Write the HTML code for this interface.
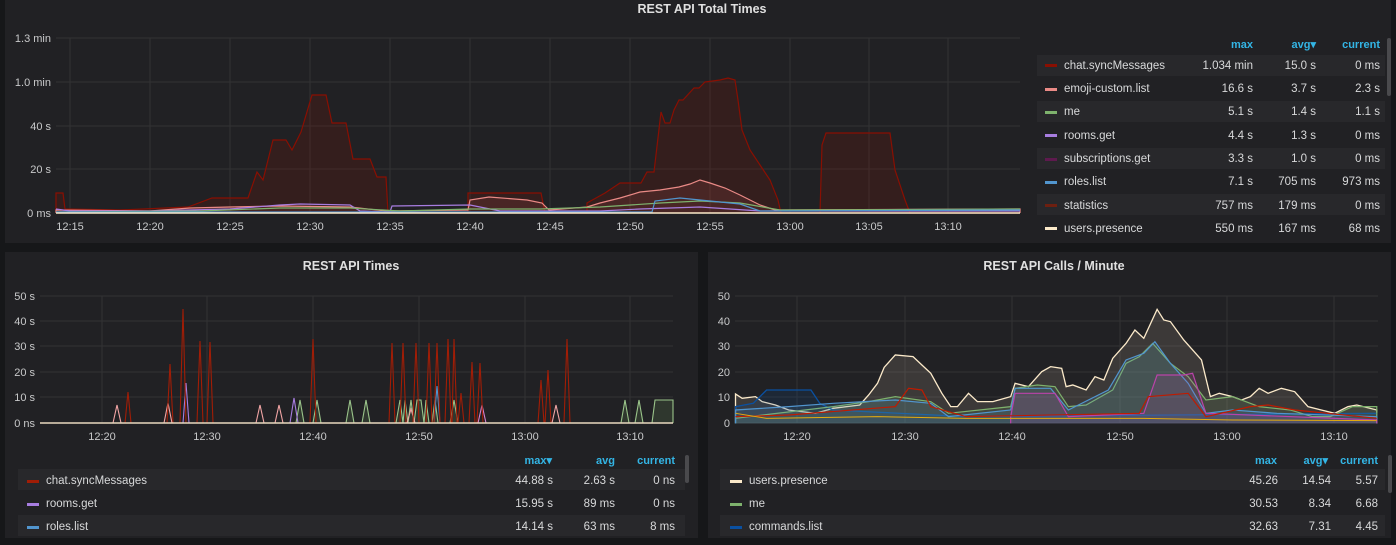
<!DOCTYPE html>
<html><head><meta charset="utf-8"><style>
body{margin:0;background:#161719;width:1396px;height:540px;overflow:hidden}
text{font-family:"Liberation Sans",sans-serif;fill:#d8d9da}
.ax text{font-size:11px;fill:#c8c9ca}
.t{font-size:12.5px;font-weight:bold;fill:#e0e0e0}
.lg text{font-size:11.5px;fill:#d8d9da}
.h text{font-size:11px;fill:#33b5e5;font-weight:bold}
.g{stroke:#323234;stroke-width:1}
</style></head><body>
<svg width="1396" height="540" xmlns="http://www.w3.org/2000/svg">
<rect x="0" y="0" width="1396" height="540" fill="#161719"/>
<rect x="5" y="0" width="1386" height="243" fill="#212124"/>
<rect x="5" y="252" width="693" height="286" fill="#212124"/>
<rect x="708" y="252" width="683" height="286" fill="#212124"/>

<!-- TOP -->
<text x="702" y="13" class="t" text-anchor="middle">REST API Total Times</text>
<g class="g">
<line x1="56" x2="1020" y1="38" y2="38"/><line x1="56" x2="1020" y1="82" y2="82"/><line x1="56" x2="1020" y1="126" y2="126"/><line x1="56" x2="1020" y1="169" y2="169"/><line x1="56" x2="1020" y1="213" y2="213"/>
<line x1="70" x2="70" y1="38" y2="213"/><line x1="150" x2="150" y1="38" y2="213"/><line x1="230" x2="230" y1="38" y2="213"/><line x1="310" x2="310" y1="38" y2="213"/><line x1="390" x2="390" y1="38" y2="213"/><line x1="470" x2="470" y1="38" y2="213"/><line x1="550" x2="550" y1="38" y2="213"/><line x1="630" x2="630" y1="38" y2="213"/><line x1="710" x2="710" y1="38" y2="213"/><line x1="790" x2="790" y1="38" y2="213"/><line x1="869" x2="869" y1="38" y2="213"/><line x1="948" x2="948" y1="38" y2="213"/>
</g>
<g class="ax" text-anchor="end">
<text x="51" y="42">1.3 min</text><text x="51" y="86">1.0 min</text><text x="51" y="130">40 s</text><text x="51" y="173">20 s</text><text x="51" y="217">0 ms</text>
</g>
<g class="ax" text-anchor="middle">
<text x="70" y="230">12:15</text><text x="150" y="230">12:20</text><text x="230" y="230">12:25</text><text x="310" y="230">12:30</text><text x="390" y="230">12:35</text><text x="470" y="230">12:40</text><text x="550" y="230">12:45</text><text x="630" y="230">12:50</text><text x="710" y="230">12:55</text><text x="790" y="230">13:00</text><text x="869" y="230">13:05</text><text x="948" y="230">13:10</text>
</g>
<polyline fill="rgba(137,15,2,0.18)" stroke="#890f02" stroke-width="1.2" points="56,213 56,193 63,193 65,209 120,210 188,207 212,198 248,198 257,172 263,180 273,140 286,140 292,150 301,132 312,95 326,95 332,123 346,123 353,159 370,159 377,177 386,177 388,213 468,213 468,193 541,193 545,213 587,213 587,203 605,193 620,183 641,183 647,172 654,172 661,112 665,123 670,123 674,110 679,100 683,100 694,88 699,88 705,82 720,80 728,78 735,80 738,100 742,130 750,150 760,165 770,180 778,200 781,213 820,213 822,145 826,133 890,133 895,170 905,200 910,213 1020,213"/>
<polyline fill="rgba(234,100,96,0.12)" stroke="#ea8a86" stroke-width="1.2" points="56,213 56,210 150,211 190,208 230,207 280,206 350,207 386,211 468,210 470,200 489,197 527,200 542,203 549,210 587,207 600,203 620,198 640,192 660,190 679,187 690,184 700,180 710,183 725,188 740,195 760,205 775,210 1020,209 1020,213"/>
<polyline fill="none" stroke="#a77de0" stroke-width="1.2" points="56,209 70,211 150,211 230,209 280,205 300,204 350,205 360,211 390,212 392,206 470,205 500,211 600,211 640,209 700,207 760,211 1020,211"/>
<polyline fill="none" stroke="#7eb26d" stroke-width="1.2" points="56,212 200,211 280,208 350,208 400,211 470,209 540,209 600,207 660,203 700,201 740,203 780,210 1020,209"/>
<polyline fill="none" stroke="#5195ce" stroke-width="1.2" points="56,212 600,212 652,212 655,201 680,198 700,200 740,204 760,211 1020,210"/>
<polyline fill="none" stroke="#fceaca" stroke-width="1.5" points="56,213 1020,213"/>
<!-- legend top -->
<g class="h" text-anchor="end"><text x="1253" y="48">max</text><text x="1316" y="48">avg▾</text><text x="1380" y="48">current</text></g>
<g fill="#28282b">
<rect x="1037" y="55" width="348" height="21"/><rect x="1037" y="101" width="348" height="21"/><rect x="1037" y="148" width="348" height="21"/><rect x="1037" y="194" width="348" height="21"/>
</g>
<rect x="1387" y="38" width="4" height="58" rx="2" fill="#4a4a4d"/>
<g>
<rect x="1045" y="64" width="12" height="3" fill="#890f02"/><rect x="1045" y="88" width="12" height="3" fill="#ea8a86"/><rect x="1045" y="111" width="12" height="3" fill="#7eb26d"/><rect x="1045" y="134" width="12" height="3" fill="#a77de0"/><rect x="1045" y="158" width="12" height="3" fill="#5e1a4e"/><rect x="1045" y="181" width="12" height="3" fill="#5195ce"/><rect x="1045" y="204" width="12" height="3" fill="#6d1f10"/><rect x="1045" y="227" width="12" height="3" fill="#fceaca"/>
</g>
<g class="lg">
<text x="1064" y="69">chat.syncMessages</text><text x="1064" y="92">emoji-custom.list</text><text x="1064" y="115">me</text><text x="1064" y="139">rooms.get</text><text x="1064" y="162">subscriptions.get</text><text x="1064" y="185">roles.list</text><text x="1064" y="209">statistics</text><text x="1064" y="232">users.presence</text>
</g>
<g class="lg" text-anchor="end">
<text x="1253" y="69">1.034 min</text><text x="1316" y="69">15.0 s</text><text x="1380" y="69">0 ms</text>
<text x="1253" y="92">16.6 s</text><text x="1316" y="92">3.7 s</text><text x="1380" y="92">2.3 s</text>
<text x="1253" y="115">5.1 s</text><text x="1316" y="115">1.4 s</text><text x="1380" y="115">1.1 s</text>
<text x="1253" y="139">4.4 s</text><text x="1316" y="139">1.3 s</text><text x="1380" y="139">0 ms</text>
<text x="1253" y="162">3.3 s</text><text x="1316" y="162">1.0 s</text><text x="1380" y="162">0 ms</text>
<text x="1253" y="185">7.1 s</text><text x="1316" y="185">705 ms</text><text x="1380" y="185">973 ms</text>
<text x="1253" y="209">757 ms</text><text x="1316" y="209">179 ms</text><text x="1380" y="209">0 ms</text>
<text x="1253" y="232">550 ms</text><text x="1316" y="232">167 ms</text><text x="1380" y="232">68 ms</text>
</g>

<!-- BOTTOM LEFT -->
<text x="351" y="270" class="t" text-anchor="middle">REST API Times</text>
<g class="g">
<line x1="40" x2="673" y1="296" y2="296"/><line x1="40" x2="673" y1="321" y2="321"/><line x1="40" x2="673" y1="346" y2="346"/><line x1="40" x2="673" y1="372" y2="372"/><line x1="40" x2="673" y1="397" y2="397"/>
<line x1="102" x2="102" y1="296" y2="423"/><line x1="207" x2="207" y1="296" y2="423"/><line x1="313" x2="313" y1="296" y2="423"/><line x1="419" x2="419" y1="296" y2="423"/><line x1="525" x2="525" y1="296" y2="423"/><line x1="630" x2="630" y1="296" y2="423"/>
</g>
<g class="ax" text-anchor="end"><text x="35" y="300">50 s</text><text x="35" y="325">40 s</text><text x="35" y="350">30 s</text><text x="35" y="376">20 s</text><text x="35" y="401">10 s</text><text x="35" y="427">0 ns</text></g>
<g class="ax" text-anchor="middle"><text x="102" y="440">12:20</text><text x="207" y="440">12:30</text><text x="313" y="440">12:40</text><text x="419" y="440">12:50</text><text x="525" y="440">13:00</text><text x="630" y="440">13:10</text></g>
<polyline fill="rgba(126,178,109,0.15)" stroke="#9ac48a" stroke-width="1.1" points="40,423 296,423 300,400 304,423 313,423 317,400 321,423 346,423 350,400 354,423 362,423 366,400 370,423 396,423 400,400 403,423 405,400 408,423 411,400 414,423 417,400 421,400 424,423 426,400 429,423 432,423 435,400 438,423 450,423 454,400 458,423 621,423 625,400 629,423 635,423 639,400 643,423 652,423 655,400 673,400 673,423"/>
<polyline fill="none" stroke="#f2a5a5" stroke-width="1.1" points="40,423 113,423 117,405 121,423 164,423 168,403 172,423 256,423 260,405 264,423 275,423 279,405 283,423 407,423 411,409 415,423 552,423 556,405 560,423 673,423"/>
<polyline fill="none" stroke="#d683ce" stroke-width="1.1" points="478,423 482,405 486,423"/>
<polyline fill="none" stroke="#a77de0" stroke-width="1.1" points="40,423 183,423 186,383 189,423 290,423 294,398 298,423 673,423"/>
<polyline fill="none" stroke="#5195ce" stroke-width="1.1" points="434,423 437,386 440,423"/>
<polyline fill="none" stroke="#a11d06" stroke-width="1.1" points="40,423 125,423 128,392 131,423 167,423 170,364 173,423 180,423 183,309 186,423 197,423 200,341 203,423 207,423 210,342 213,423 310,423 313,339 316,423 389,423 392,343 395,423 400,423 403,343 406,423 413,423 416,343 419,423 426,423 429,343 432,423 434,423 437,343 440,423 445,423 448,339 451,423 452,423 454,339 457,423 458,423 461,393 464,423 469,423 472,362 475,423 477,423 480,363 483,423 538,423 541,380 544,423 545,423 548,370 551,423 564,423 567,339 570,423 673,423"/>
<polyline fill="none" stroke="#e9d9bf" stroke-width="1.5" points="40,423 673,423"/>
<g class="h" text-anchor="end"><text x="552" y="464">max▾</text><text x="615" y="464">avg</text><text x="675" y="464">current</text></g>
<rect x="18" y="469" width="667" height="21" fill="#28282b"/>
<rect x="18" y="515" width="667" height="21" fill="#28282b"/>
<rect x="685" y="455" width="4" height="28" rx="2" fill="#4a4a4d"/>
<rect x="27" y="480" width="12" height="3" fill="#a11d06"/><rect x="27" y="503" width="12" height="3" fill="#a77de0"/><rect x="27" y="526" width="12" height="3" fill="#5195ce"/>
<g class="lg"><text x="46" y="484">chat.syncMessages</text><text x="46" y="507">rooms.get</text><text x="46" y="530">roles.list</text></g>
<g class="lg" text-anchor="end">
<text x="553" y="484">44.88 s</text><text x="615" y="484">2.63 s</text><text x="675" y="484">0 ns</text>
<text x="553" y="507">15.95 s</text><text x="615" y="507">89 ms</text><text x="675" y="507">0 ns</text>
<text x="553" y="530">14.14 s</text><text x="615" y="530">63 ms</text><text x="675" y="530">8 ms</text>
</g>

<!-- BOTTOM RIGHT -->
<text x="1054" y="270" class="t" text-anchor="middle">REST API Calls / Minute</text>
<g class="g">
<line x1="735" x2="1378" y1="296" y2="296"/><line x1="735" x2="1378" y1="321" y2="321"/><line x1="735" x2="1378" y1="346" y2="346"/><line x1="735" x2="1378" y1="372" y2="372"/><line x1="735" x2="1378" y1="397" y2="397"/><line x1="735" x2="1378" y1="423" y2="423"/>
<line x1="797" x2="797" y1="296" y2="423"/><line x1="905" x2="905" y1="296" y2="423"/><line x1="1012" x2="1012" y1="296" y2="423"/><line x1="1120" x2="1120" y1="296" y2="423"/><line x1="1227" x2="1227" y1="296" y2="423"/><line x1="1334" x2="1334" y1="296" y2="423"/>
</g>
<g class="ax" text-anchor="end"><text x="730" y="300">50</text><text x="730" y="325">40</text><text x="730" y="350">30</text><text x="730" y="376">20</text><text x="730" y="401">10</text><text x="730" y="427">0</text></g>
<g class="ax" text-anchor="middle"><text x="797" y="440">12:20</text><text x="905" y="440">12:30</text><text x="1012" y="440">12:40</text><text x="1120" y="440">12:50</text><text x="1227" y="440">13:00</text><text x="1334" y="440">13:10</text></g>
<g transform="translate(700,250) scale(0.4438,0.3333)">
<polyline vector-effect="non-scaling-stroke" fill="rgba(252,234,202,0.12)" stroke="#fceaca" stroke-width="1.3" points="80,520 80,432 95,445 125,440 140,455 170,465 200,480 260,490 300,475 360,465 380,435 400,400 415,352 440,315 480,320 500,345 520,370 545,430 565,470 580,470 605,430 625,455 660,455 700,440 710,400 740,410 770,365 790,350 815,355 825,410 840,405 870,420 890,380 910,390 930,325 960,280 980,240 1000,265 1030,178 1045,210 1060,215 1090,270 1110,300 1130,330 1150,440 1170,430 1200,440 1220,450 1240,440 1260,415 1280,430 1310,415 1340,425 1370,470 1400,480 1430,490 1460,470 1480,465 1525,480 1525,520"/>
<polyline vector-effect="non-scaling-stroke" fill="rgba(10,80,161,0.15)" stroke="#0a50a1" stroke-width="1.3" points="80,520 80,470 120,460 150,420 250,420 270,460 300,480 600,500 1525,490 1525,520"/>
<polyline vector-effect="non-scaling-stroke" fill="rgba(126,178,109,0.12)" stroke="#7eb26d" stroke-width="1.2" points="80,520 80,505 300,470 380,455 440,440 520,455 560,490 700,470 710,415 760,405 800,410 830,470 870,465 930,420 960,340 990,320 1020,280 1060,340 1100,380 1140,450 1200,440 1260,470 1330,480 1380,500 1420,500 1470,470 1525,470 1525,520"/>
<polyline vector-effect="non-scaling-stroke" fill="rgba(81,149,206,0.15)" stroke="#5195ce" stroke-width="1.2" points="80,520 80,480 200,470 300,460 440,450 520,460 560,500 700,480 710,415 790,415 830,480 920,420 960,330 1000,310 1025,275 1060,340 1100,400 1140,490 1200,480 1300,490 1525,500 1525,520"/>
<polyline vector-effect="non-scaling-stroke" fill="rgba(186,67,169,0.15)" stroke="#ba43a9" stroke-width="1.2" points="700,520 700,500 710,430 800,430 830,500 1000,490 1030,375 1090,375 1110,370 1140,490 1525,510 1525,520"/>
<polyline vector-effect="non-scaling-stroke" fill="none" stroke="#bf1b00" stroke-width="1.2" points="80,500 200,495 440,470 470,415 500,420 520,470 600,500 990,490 1010,440 1100,430 1140,500 1240,470 1280,465 1340,480 1525,505"/>
<polyline vector-effect="non-scaling-stroke" fill="none" stroke="#e5ac0e" stroke-width="1" points="80,490 150,505 400,500 600,505 800,505 1000,505 1200,510 1525,512"/>
</g>
<g class="h" text-anchor="end"><text x="1277" y="464">max</text><text x="1328" y="464">avg▾</text><text x="1378" y="464">current</text></g>
<rect x="720" y="469" width="665" height="21" fill="#28282b"/>
<rect x="720" y="515" width="665" height="21" fill="#28282b"/>
<rect x="1388" y="455" width="4" height="38" rx="2" fill="#4a4a4d"/>
<rect x="730" y="480" width="12" height="3" fill="#fceaca"/><rect x="730" y="503" width="12" height="3" fill="#7eb26d"/><rect x="730" y="526" width="12" height="3" fill="#0a50a1"/>
<g class="lg"><text x="749" y="484">users.presence</text><text x="749" y="507">me</text><text x="749" y="530">commands.list</text></g>
<g class="lg" text-anchor="end">
<text x="1278" y="484">45.26</text><text x="1331" y="484">14.54</text><text x="1378" y="484">5.57</text>
<text x="1278" y="507">30.53</text><text x="1331" y="507">8.34</text><text x="1378" y="507">6.68</text>
<text x="1278" y="530">32.63</text><text x="1331" y="530">7.31</text><text x="1378" y="530">4.45</text>
</g>
</svg>
</body></html>
